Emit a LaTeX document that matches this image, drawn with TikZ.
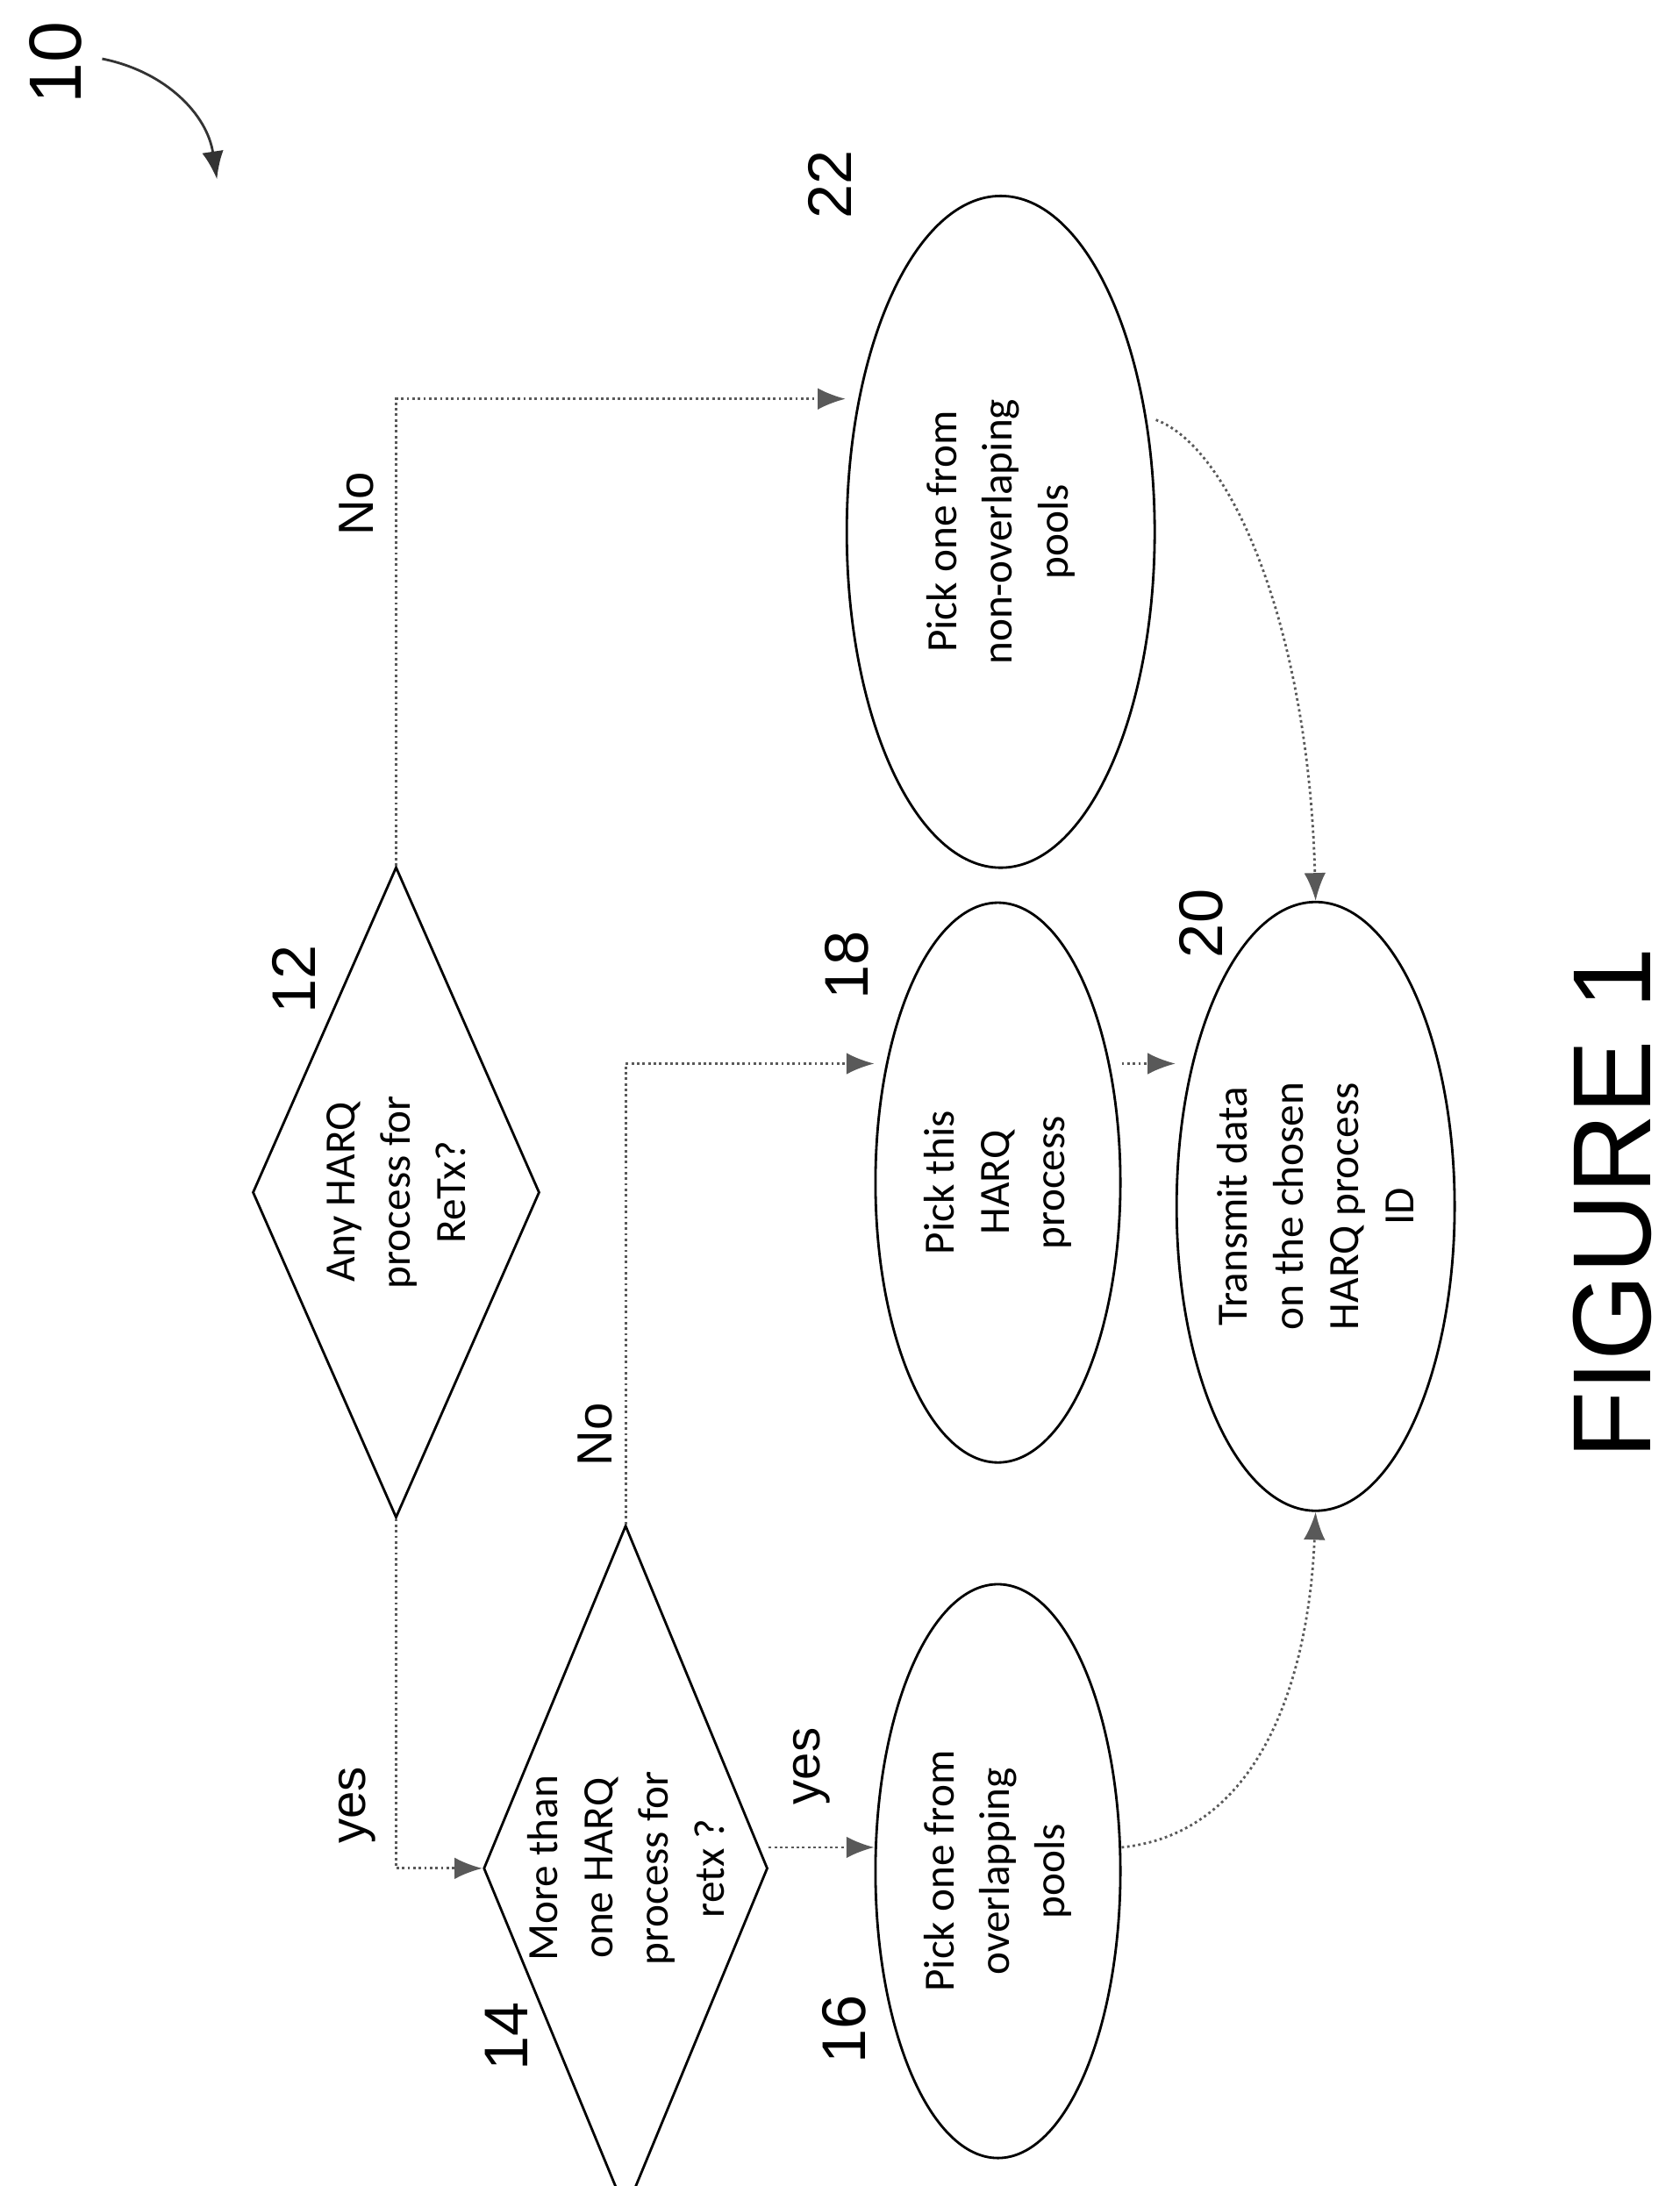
\documentclass[tikz,border=0pt]{standalone}
\usepackage{fontspec}
\setmainfont{Liberation Sans}
\newfontfamily\boxfont{Carlito}
\usetikzlibrary{shapes.geometric,arrows.meta}

\begin{document}
\begin{tikzpicture}[x=0.01595cm, y=-0.01595cm,
  every node/.style={rotate=90},
  action/.style={ellipse, draw, thick, inner sep=0pt, align=center,
    font=\boxfont\fontsize{14}{18}\selectfont},
  test/.style={diamond, draw, thick, inner sep=0pt},
  words/.style={align=center, font=\boxfont\fontsize{14}{18}\selectfont},
  tag/.style={font=\fontsize{20}{24}\selectfont},
  flow/.style={densely dotted, thick, gray!70!black, -{Latex[length=9pt,width=7pt]}},
  link/.style={thick, black!80, -{Latex[length=9pt,width=7pt]}}]

\useasboundingbox (0,0) rectangle (1200,1562);

%─────────────
% Decisions
%─────────────
\node[test, minimum width=465*0.01595cm, minimum height=205*0.01595cm]
  (retx) at (283,852) {};
\node[words] (retxtext) at (retx) {Any HARQ\\process for\\ReTx?};
\node[test, minimum width=490*0.01595cm, minimum height=203*0.01595cm]
  (multi) at (447,1335) {};
\node[words] (multitext) at (multi) {More than\\one HARQ\\process for\\retx ?};

%─────────────
% Actions
%─────────────
\node[action, minimum width=410*0.01595cm, minimum height=175*0.01595cm]
  (overlap) at (713,1337) {Pick one from\\overlapping\\pools};
\node[action, minimum width=400*0.01595cm, minimum height=175*0.01595cm]
  (this) at (713,845) {Pick this\\HARQ\\process};
\node[action, minimum width=435*0.01595cm, minimum height=180*0.01595cm]
  (send) at (940,862) {Transmit data\\on the chosen\\HARQ process\\ID};
\node[action, minimum width=480*0.01595cm, minimum height=220*0.01595cm]
  (nonoverlap) at (715,380) {Pick one from\\non-overlaping\\pools};

%─────────────
% Reference numbers
%─────────────
\node[tag] (n12) at (210,700) {12};
\node[tag] (n14) at (362,1455) {14};
\node[tag] (n16) at (603,1450) {16};
\node[tag] (n18) at (605,690) {18};
\node[tag] (n20) at (858,660) {20};
\node[tag] (n22) at (593,132) {22};
\node[tag, font=\fontsize{24}{28}\selectfont] (n10) at (40,45) {10};
\node[font=\fontsize{36}{40}\selectfont] (fig) at (1152,860) {FIGURE 1};

\coordinate (c10a) at (73,42);
\coordinate (c10b) at (155,128);
\draw[link] (c10a) to[bend left=35] (c10b);

%─────────────
% Connectors
%─────────────
\draw[flow] (retx.west) |- (multi.north);
\draw[flow] (retx.east) |- (nonoverlap.north |- 0,285);
\draw[flow] (multi.east) |- (this.north |- 0,760);
\draw[flow] (multi.south |- 0,1320) -- (overlap.north |- 0,1320);
\draw[flow] (this.south |- 0,760) -- (send.north |- 0,760);
\draw[flow] (overlap.south |- 0,1320) .. controls (900,1310) and (935,1200) .. (send.west);
\draw[flow] (nonoverlap.south |- 0,300) .. controls (880,320) and (935,450) .. (send.east);

% Labels on branches
\node[font=\fontsize{16}{20}\selectfont] (lyes1) at (255,1290) {yes};
\node[font=\fontsize{16}{20}\selectfont] (lno1) at (255,360) {No};
\node[font=\fontsize{16}{20}\selectfont] (lno2) at (425,1025) {No};
\node[font=\fontsize{16}{20}\selectfont] (lyes2) at (580,1262) {yes};

\end{tikzpicture}
\end{document}
